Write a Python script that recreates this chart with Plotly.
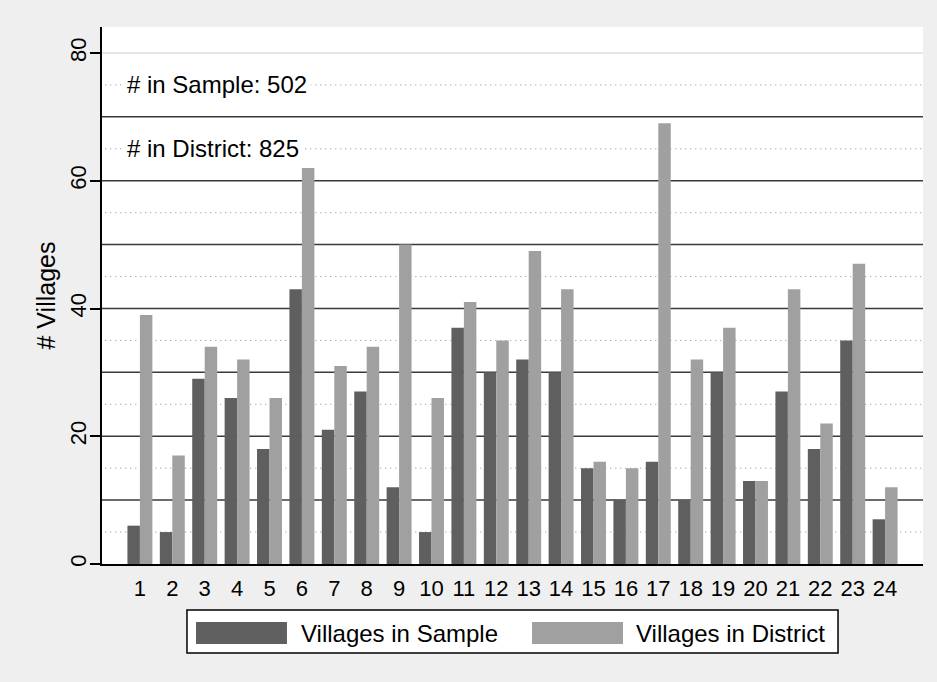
import plotly.graph_objects as go

# data
districts = list(range(1, 25))
in_sample = [6, 5, 29, 26, 18, 43, 21, 27, 12, 5, 37, 30, 32, 30, 15, 10, 16, 10, 30, 13, 27, 18, 35, 7]
in_district = [39, 17, 34, 32, 26, 62, 31, 34, 50, 26, 41, 35, 49, 43, 16, 15, 69, 32, 37, 13, 43, 22, 47, 12]
y_ticks = [0, 20, 40, 60, 80]

DARK = "#5f5f5f"
LIGHT = "#a0a0a0"
BG = "#efefef"
FONT = "Arial, Liberation Sans, sans-serif"

fig = go.Figure()

fig.add_trace(go.Bar(x=districts, y=in_sample, name="Villages in Sample",
                     marker=dict(color=DARK, line=dict(width=0))))
fig.add_trace(go.Bar(x=districts, y=in_district, name="Villages in District",
                     marker=dict(color=LIGHT, line=dict(width=0))))

shapes = []
# solid grid lines every 10, light line at 80
for v in range(10, 80, 10):
    shapes.append(dict(type="line", xref="paper", yref="y", x0=0, x1=1, y0=v, y1=v,
                       line=dict(color="#3a3a3a", width=1.5), layer="below"))
shapes.append(dict(type="line", xref="paper", yref="y", x0=0, x1=1, y0=80, y1=80,
                   line=dict(color="#e6e6e6", width=2), layer="below"))
# dotted lines in between
for v in range(5, 80, 10):
    shapes.append(dict(type="line", xref="paper", yref="y", x0=0.004, x1=1, y0=v, y1=v,
                       line=dict(color="#8a8a8a", width=1, dash="1px,4px"), layer="below"))

# hand-made legend box (wide swatches like the original)
shapes.append(dict(type="rect", xref="paper", yref="paper", x0=0.1035, x1=0.8965,
                   y0=-0.1657, y1=-0.0857, fillcolor="white",
                   line=dict(color="black", width=1.5)))
shapes.append(dict(type="rect", xref="paper", yref="paper", x0=0.1145, x1=0.2253,
                   y0=-0.149, y1=-0.108, fillcolor=DARK, line=dict(width=0)))
shapes.append(dict(type="rect", xref="paper", yref="paper", x0=0.5238, x1=0.6346,
                   y0=-0.149, y1=-0.108, fillcolor=LIGHT, line=dict(width=0)))

annotations = [
    dict(text="# in Sample: " + str(sum(in_sample)), xref="paper", yref="y",
         x=0.0256, y=75, xanchor="left", yanchor="middle", showarrow=False,
         bgcolor="white", borderpad=3, font=dict(size=24, color="black", family=FONT)),
    dict(text="# in District: " + str(sum(in_district)), xref="paper", yref="y",
         x=0.0256, y=65, xanchor="left", yanchor="middle", showarrow=False,
         bgcolor="white", borderpad=3, font=dict(size=24, color="black", family=FONT)),
    dict(text="Villages in Sample", xref="paper", yref="paper", x=0.2399, y=-0.1285,
         xanchor="left", yanchor="middle", showarrow=False,
         font=dict(size=24, color="black", family=FONT)),
    dict(text="Villages in District", xref="paper", yref="paper", x=0.6479, y=-0.1285,
         xanchor="left", yanchor="middle", showarrow=False,
         font=dict(size=24, color="black", family=FONT)),
]

fig.update_layout(
    width=937, height=682,
    margin=dict(l=102, r=14, t=27, b=118),
    paper_bgcolor=BG,
    plot_bgcolor="white",
    barmode="group",
    bargap=0.23,
    bargroupgap=0,
    showlegend=False,
    font=dict(family=FONT, size=22, color="black"),
    shapes=shapes,
    annotations=annotations,
    xaxis=dict(
        range=[-0.17, 25.17],
        tickmode="array", tickvals=districts, ticktext=[str(d) for d in districts],
        ticks="outside", ticklen=4, tickcolor="rgba(0,0,0,0)",
        showgrid=False, zeroline=False,
        showline=True, linecolor="black", linewidth=1.5,
        tickfont=dict(size=22),
    ),
    yaxis=dict(
        range=[0, 84.07],
        tickmode="array", tickvals=y_ticks,
        tickangle=-90,
        ticks="outside", ticklen=10, tickcolor="black", tickwidth=1.5,
        ticklabelstandoff=-5,
        showgrid=False, zeroline=False,
        showline=True, linecolor="black", linewidth=1.5,
        title=dict(text="# Villages", standoff=4, font=dict(size=25)),
        tickfont=dict(size=22),
    ),
)

# drop the page's default body margin so the figure sits at the window corner
fig.write_html("out.html", config={"displayModeBar": False},
               post_script="document.body.style.margin='0';")
